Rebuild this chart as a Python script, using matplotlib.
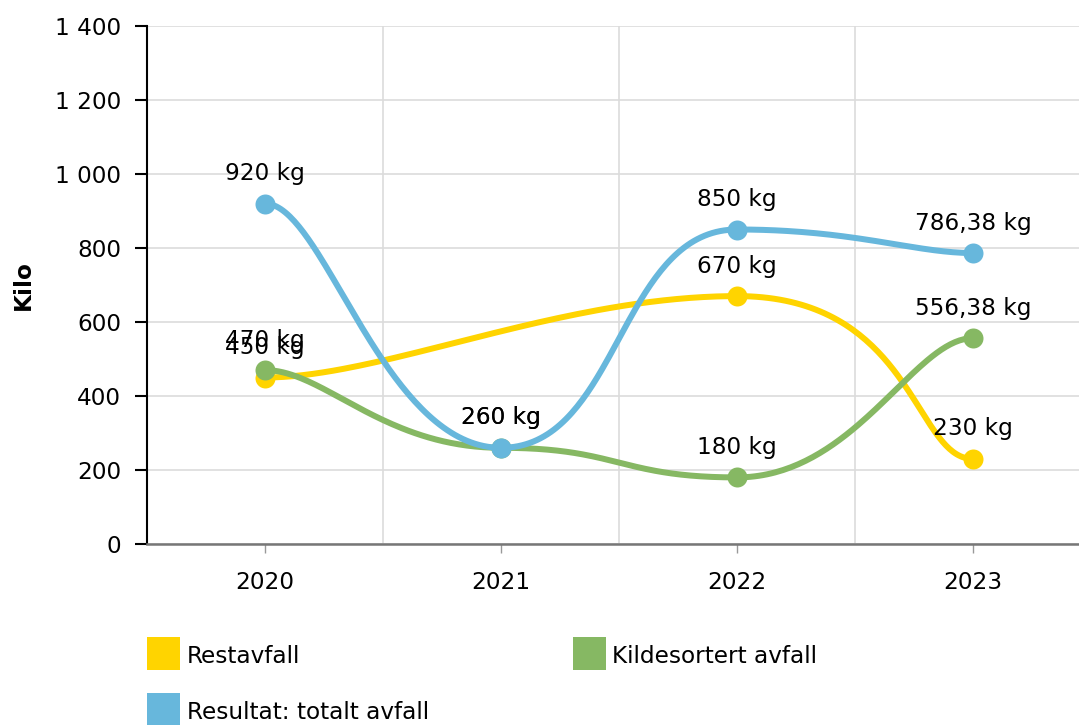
import numpy as np
import matplotlib.pyplot as plt
from matplotlib.patches import Rectangle
from matplotlib.ticker import FuncFormatter, MultipleLocator

years = [2020, 2021, 2022, 2023]
restavfall = [450, None, 670, 230]
kildesortert = [470, 260, 180, 556.38]
totalt = [920, 260, 850, 786.38]

names = ["Restavfall", "Kildesortert avfall", "Resultat: totalt avfall"]
colors = ["#ffd400", "#86b863", "#67b7dc"]

W, H = 1079, 725
PT = 72 / 100  # px -> pt
FS = 16.7


def smooth(xs, ys, tension_x=0.75, tension_y=1.0):
    # tension smoothing, null points are skipped (line stays connected)
    pts = [(x, y) for x, y in zip(xs, ys) if y is not None]
    px = np.array([p[0] for p in pts], float)
    py = np.array([p[1] for p in pts], float)
    n = len(px)
    kx = 1 - tension_x + 1e-5
    ky = 1 - tension_y + 1e-5
    t = np.linspace(0, 1, 80)
    outx, outy = [px[0]], [py[0]]
    for i in range(n - 1):
        i0 = max(i - 1, 0)
        i3 = min(i + 2, n - 1)
        ax_ = px[i] + kx * (px[i + 1] - px[i0])
        ay_ = py[i] + ky * (py[i + 1] - py[i0])
        bx_ = px[i + 1] - kx * (px[i3] - px[i])
        by_ = py[i + 1] - ky * (py[i3] - py[i])
        bx = (1 - t) ** 3 * px[i] + 3 * (1 - t) ** 2 * t * ax_ + 3 * (1 - t) * t ** 2 * bx_ + t ** 3 * px[i + 1]
        by = (1 - t) ** 3 * py[i] + 3 * (1 - t) ** 2 * t * ay_ + 3 * (1 - t) * t ** 2 * by_ + t ** 3 * py[i + 1]
        outx.extend(bx[1:])
        outy.extend(by[1:])
    return np.array(outx), np.array(outy), px, py


def fmt_kg(v):
    if float(v).is_integer():
        return "%d kg" % v
    return ("%.2f kg" % v).replace(".", ",")


plt.rcParams['font.family'] = ['DejaVu Sans']
fig = plt.figure(figsize=(W / 100, H / 100), dpi=100)
ax = fig.add_axes([147 / W, 181 / H, 944 / W, 518 / H])

ax.set_xlim(2019.5, 2023.5)
ax.set_ylim(0, 1400)
ax.yaxis.set_major_locator(MultipleLocator(200))
ax.yaxis.set_major_formatter(FuncFormatter(lambda v, p: "{:,}".format(int(v)).replace(",", " ")))
ax.set_xticks(years)
ax.set_xticks([2020.5, 2021.5, 2022.5], minor=True)

ax.grid(True, axis='y', color='#dcdcdc', lw=1.2)
ax.grid(True, axis='x', which='minor', color='#dcdcdc', lw=1.2)
ax.set_axisbelow(True)
for s in ['top', 'right']:
    ax.spines[s].set_visible(False)
ax.spines['left'].set_color('black')
ax.spines['left'].set_linewidth(1.5)
ax.spines['bottom'].set_color('#777777')
ax.spines['bottom'].set_linewidth(1.8)

ax.tick_params(axis='y', length=12 * PT, width=1.5, pad=14 * PT, labelsize=FS, colors='black')
ax.tick_params(axis='x', which='major', length=9 * PT, width=1.0, color='#999999', pad=18 * PT, labelsize=FS)
ax.tick_params(axis='x', which='minor', length=0)

series = [restavfall, kildesortert, totalt]
for k, (vals, c) in enumerate(zip(series, colors)):
    sx, sy, px, py = smooth(years, vals)
    ax.plot(sx, sy, color=c, lw=6 * PT, solid_capstyle='round', zorder=3 + k)
    ax.plot(px, py, 'o', color=c, ms=20 * PT, mew=0, zorder=3 + k)
    for x, y in zip(px, py):
        ax.annotate(fmt_kg(y), (x, y), xytext=(0, 30 * PT), textcoords='offset points',
                    ha='center', va='center', fontsize=FS, zorder=10)

fig.text(23 / W, 1 - 285 / H, "Kilo", rotation=90, ha='center', va='center',
         fontsize=FS, fontweight='bold')

# legend
leg = [(147, 637, 187, 663), (573, 637, 612, 663), (147, 693, 187, 719)]
for (bx, by, tx, ty), name, c in zip(leg, names, colors):
    fig.patches.append(Rectangle((bx / W, 1 - (by + 33) / H), 33 / W, 33 / H,
                                 transform=fig.transFigure, color=c, lw=0))
    fig.text(tx / W, 1 - ty / H, name, ha='left', va='baseline', fontsize=FS)

fig.savefig("out.png", dpi=100)
